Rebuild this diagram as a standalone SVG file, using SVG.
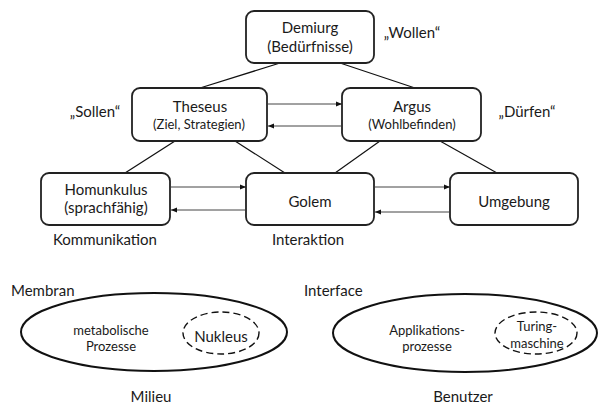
<svg xmlns="http://www.w3.org/2000/svg" width="600" height="408" viewBox="0 0 600 408">
<defs>
<style>
text{font-family:Lato,"Open Sans","Liberation Sans",sans-serif;fill:#1a1a1a;font-size:15px;text-anchor:middle}
.sm{font-size:13px}
.lft{text-anchor:start}
.box{fill:#fff;stroke:#222;stroke-width:1.8}
.edge{stroke:#111;stroke-width:1.2;fill:none}
.arr{stroke:#444;stroke-width:1;fill:none;marker-end:url(#ah)}
.ell{fill:none;stroke:#111;stroke-width:2}
.dash{fill:none;stroke:#111;stroke-width:1.4;stroke-dasharray:7 4}
</style>
<marker id="ah" viewBox="0 0 6 6" refX="6" refY="3" markerWidth="6" markerHeight="6" markerUnits="userSpaceOnUse" orient="auto">
<path d="M0,0.5 L6,3 L0,5.5 z" fill="#111"/>
</marker>
</defs>
<rect width="600" height="408" fill="#fff"/>
<g id="connectors">
<line class="edge" x1="280" y1="63" x2="200" y2="88"/>
<line class="edge" x1="340" y1="63" x2="415" y2="88"/>
<line class="edge" x1="175" y1="141" x2="125" y2="173"/>
<line class="edge" x1="235" y1="141" x2="285" y2="173"/>
<line class="edge" x1="380" y1="141" x2="335" y2="173"/>
<line class="edge" x1="440" y1="141" x2="497" y2="173"/>
<line class="arr" x1="268" y1="104" x2="342" y2="104"/>
<line class="arr" x1="341" y1="126" x2="268" y2="126"/>
<line class="arr" x1="171" y1="187" x2="246" y2="187"/>
<line class="arr" x1="245" y1="210" x2="171" y2="210"/>
<line class="arr" x1="375" y1="187" x2="450" y2="187"/>
<line class="arr" x1="449" y1="212" x2="375" y2="212"/>
</g>
<g id="demiurg">
<rect class="box" x="246" y="11" width="128" height="52" rx="8"/>
<text x="310" y="33">Demiurg</text>
<text x="310" y="52">(Bedürfnisse)</text>
</g>
<g id="theseus">
<rect class="box" x="132" y="88" width="135" height="53" rx="8"/>
<text x="200" y="112">Theseus</text>
<text class="sm" x="199" y="129">(Ziel, Strategien)</text>
</g>
<g id="argus">
<rect class="box" x="342" y="88" width="139" height="53" rx="8"/>
<text x="412" y="112">Argus</text>
<text class="sm" x="412" y="129">(Wohlbefinden)</text>
</g>
<g id="homunkulus">
<rect class="box" x="41" y="173" width="129" height="52" rx="8"/>
<text x="106" y="195">Homunkulus</text>
<text x="106" y="213">(sprachfähig)</text>
</g>
<g id="golem">
<rect class="box" x="246" y="173" width="128" height="52" rx="8"/>
<text x="310" y="207">Golem</text>
</g>
<g id="umgebung">
<rect class="box" x="450" y="173" width="128" height="52" rx="8"/>
<text x="514" y="207">Umgebung</text>
</g>
<g id="labels">
<text x="412" y="38">„Wollen“</text>
<text x="95" y="117">„Sollen“</text>
<text x="527" y="117">„Dürfen“</text>
<text x="105" y="245">Kommunikation</text>
<text x="308" y="245">Interaktion</text>
</g>
<g id="zelle">
<ellipse class="ell" cx="154" cy="332" rx="133" ry="39"/>
<ellipse class="dash" cx="221" cy="333" rx="38" ry="21"/>
<text x="221" y="342">Nukleus</text>
<text class="sm" x="111" y="335">metabolische</text>
<text class="sm" x="111" y="351">Prozesse</text>
<text class="lft" x="11" y="296">Membran</text>
<text x="151" y="402">Milieu</text>
</g>
<g id="computer">
<ellipse class="ell" cx="465" cy="333" rx="132" ry="39"/>
<ellipse class="dash" cx="536" cy="333" rx="41" ry="21"/>
<text class="sm" x="537" y="331">Turing-</text>
<text class="sm" x="537" y="348">maschine</text>
<text class="sm" x="427" y="335">Applikations-</text>
<text class="sm" x="427" y="351">prozesse</text>
<text class="lft" x="304" y="296">Interface</text>
<text x="463" y="402">Benutzer</text>
</g>
</svg>
